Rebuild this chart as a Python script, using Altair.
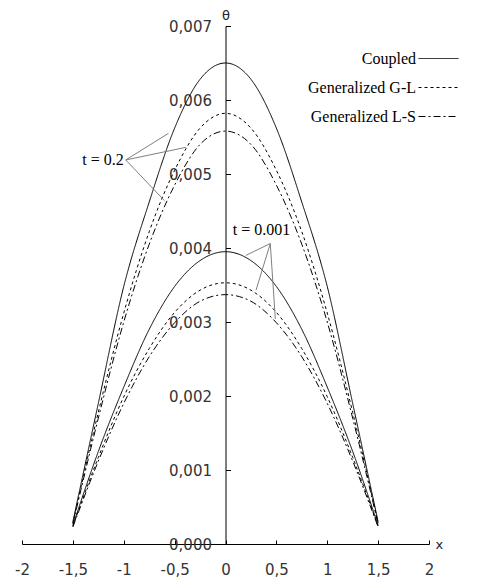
import altair as alt
import pandas as pd

# ---- data ----
x_vals = [-1.5, -1.25, -1.0, -0.75, -0.5, -0.25, 0.0, 0.25, 0.5, 0.75, 1.0, 1.25, 1.5]
coupled_t02 = [0.00030, 0.00190, 0.00348, 0.00462, 0.00562, 0.00628, 0.00650, 0.00628, 0.00562, 0.00462, 0.00348, 0.00190, 0.00030]
gl_t02 = [0.00028, 0.00178, 0.00312, 0.00422, 0.00505, 0.00562, 0.00582, 0.00562, 0.00505, 0.00422, 0.00312, 0.00178, 0.00028]
ls_t02 = [0.00027, 0.00170, 0.00300, 0.00405, 0.00485, 0.00540, 0.00558, 0.00540, 0.00485, 0.00405, 0.00300, 0.00170, 0.00027]
coupled_t0001 = [0.00025, 0.00125, 0.00212, 0.00290, 0.00348, 0.00383, 0.00395, 0.00383, 0.00348, 0.00290, 0.00212, 0.00125, 0.00025]
gl_t0001 = [0.00024, 0.00117, 0.00199, 0.00264, 0.00313, 0.00343, 0.00353, 0.00343, 0.00313, 0.00264, 0.00199, 0.00117, 0.00024]
ls_t0001 = [0.00023, 0.00112, 0.00190, 0.00253, 0.00299, 0.00328, 0.00337, 0.00328, 0.00299, 0.00253, 0.00190, 0.00112, 0.00023]

models = ["Coupled", "Generalized G-L", "Generalized L-S"]
times = ["t = 0.2", "t = 0.001"]
x_ticks = [-2, -1.5, -1, -0.5, 0, 0.5, 1, 1.5, 2]
y_ticks = [0, 0.001, 0.002, 0.003, 0.004, 0.005, 0.006, 0.007]

# annotation callouts (label anchor and arrow ends)
ann_labels = ["t = 0.2", "t = 0.001"]
ann_text_x = [-0.98, 0.354]
ann_text_y = [0.00519, 0.00425]
ann_from_x = [-0.98, -0.98, -0.98, 0.44, 0.44, 0.44]
ann_from_y = [0.00519, 0.00519, 0.00519, 0.00406, 0.00406, 0.00406]
ann_to_x = [-0.56, -0.39, -0.60, 0.20, 0.30, 0.49]
ann_to_y = [0.00555, 0.00536, 0.00464, 0.00390, 0.00343, 0.00304]

series = [
    ("Coupled", "t = 0.2", coupled_t02),
    ("Generalized G-L", "t = 0.2", gl_t02),
    ("Generalized L-S", "t = 0.2", ls_t02),
    ("Coupled", "t = 0.001", coupled_t0001),
    ("Generalized G-L", "t = 0.001", gl_t0001),
    ("Generalized L-S", "t = 0.001", ls_t0001),
]
rows = []
for m, t, vals in series:
    for xv, yv in zip(x_vals, vals):
        rows.append({"x": xv, "theta": yv, "model": m, "time": t})
df = pd.DataFrame(rows)

ann_df = pd.DataFrame({"x0": ann_from_x, "y0": ann_from_y, "x1": ann_to_x, "y1": ann_to_y})
lab_df = pd.DataFrame({"x": ann_text_x, "y": ann_text_y, "label": ann_labels,
                       "align": ["right", "center"]})

W, H = 407, 518
SANS = "DejaVu Sans"
SERIF = "Liberation Serif"

xscale = alt.Scale(domain=[-2, 2], nice=False, zero=False)
yscale = alt.Scale(domain=[0, 0.007], nice=False, zero=True)

x_axis_main = alt.Axis(
    orient="bottom", values=x_ticks, ticks=False, labelPadding=18,
    labelExpr="replace(toString(datum.value), '.', ',')",
    labelFont=SANS, labelFontSize=15, labelColor="#333", labelFlush=False,
    domainColor="black", domainWidth=1, grid=False,
    title="x", titleX=W + 6, titleY=0, titleAlign="left", titleBaseline="middle",
    titleFont=SANS, titleFontSize=13, titleFontWeight="normal", titleColor="#222",
)
y_axis_main = alt.Axis(
    orient="left", offset=-W / 2, values=y_ticks, ticks=False, labelPadding=14,
    labelExpr="replace(format(datum.value, '.3f'), '.', ',')",
    labelFont=SANS, labelFontSize=15, labelColor="#333", labelFlush=False,
    domainColor="black", domainWidth=1, grid=False,
    title="θ", titleAngle=0, titleX=0, titleY=-7, titleAlign="center",
    titleBaseline="alphabetic", titleFont=SANS, titleFontSize=13,
    titleFontWeight="normal", titleColor="#222",
)

lines = alt.Chart(df).mark_line(color="black", strokeWidth=1, interpolate="monotone").encode(
    x=alt.X("x:Q", scale=xscale, axis=x_axis_main),
    y=alt.Y("theta:Q", scale=yscale, axis=y_axis_main),
    strokeDash=alt.StrokeDash(
        "model:N",
        scale=alt.Scale(domain=models, range=[[1, 0], [3, 3], [7, 3, 2, 3]]),
        legend=alt.Legend(
            title=None, orient="none", legendX=396, legendY=12, direction="vertical",
            labelAlign="right", labelOffset={"expr": "-43"}, symbolType="stroke",
            symbolSize=1600, symbolStrokeWidth=1, symbolStrokeColor="black",
            rowPadding=0,
            labelFont=SERIF, labelFontSize=16, labelColor="black", padding=0,
            labelLimit=300,
        ),
    ),
    detail="time:N",
)

callouts = alt.Chart(ann_df).mark_rule(color="#7f7f7f", strokeWidth=1).encode(
    x=alt.X("x0:Q", scale=xscale, axis=alt.Axis(
        orient="top", offset=-H, values=x_ticks, labels=False, domain=False,
        ticks=True, tickSize=4, tickColor="black", title=None, grid=False)),
    y=alt.Y("y0:Q", scale=yscale, axis=alt.Axis(
        orient="right", offset=-W / 2, values=y_ticks, labels=False, domain=False,
        ticks=True, tickSize=5, tickColor="black", title=None, grid=False)),
    x2="x1:Q",
    y2="y1:Q",
)

text_right = alt.Chart(lab_df[lab_df["align"] == "right"]).mark_text(
    align="right", baseline="middle", dx=-2, font=SERIF, fontSize=16, color="black"
).encode(
    x=alt.X("x:Q", scale=xscale, axis=None),
    y=alt.Y("y:Q", scale=yscale, axis=None),
    text="label:N",
)
text_center = alt.Chart(lab_df[lab_df["align"] == "center"]).mark_text(
    align="center", baseline="middle", font=SERIF, fontSize=16, color="black"
).encode(
    x=alt.X("x:Q", scale=xscale, axis=None),
    y=alt.Y("y:Q", scale=yscale, axis=None),
    text="label:N",
)

chart = alt.layer(lines, callouts, text_right, text_center).resolve_axis(
    x="independent", y="independent"
).properties(
    width=W, height=H,
    autosize=alt.AutoSizeParams(type="none"),
    padding={"left": 14, "top": 18, "right": 41, "bottom": 33},
    background="white",
).configure_view(stroke=None)

chart.save("out.html", embed_options={"renderer": "svg", "actions": False})
